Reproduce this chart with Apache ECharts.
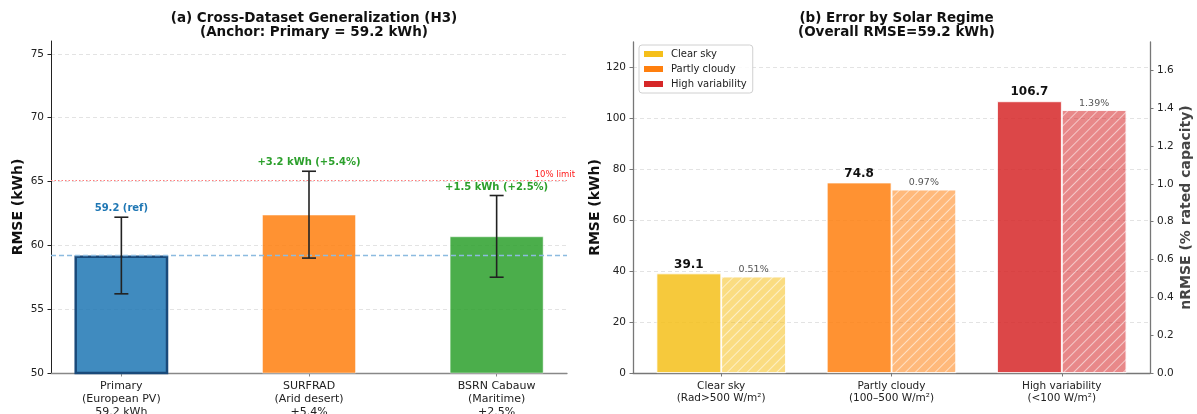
<!DOCTYPE html>
<html><head><meta charset="utf-8">
<script src="https://cdn.jsdelivr.net/npm/echarts@6/dist/echarts.min.js"></script>
<style>html,body{margin:0;padding:0;background:#fff}#c{width:1197px;height:414px}</style>
</head><body><div id="c"></div><script>
// ---------- data ----------
const datasetLabels = ['Primary\n(European PV)\n59.2 kWh', 'SURFRAD\n(Arid desert)\n+5.4%', 'BSRN Cabauw\n(Maritime)\n+2.5%'];
const rmseA = [59.2, 62.4, 60.7];
const errA = [3.0, 3.4, 3.2];
const annotA = ['59.2 (ref)', '+3.2 kWh (+5.4%)', '+1.5 kWh (+2.5%)'];
const refRmse = 59.2;
const limitRmse = 65.12;
const yTicksA = [50, 55, 60, 65, 70, 75];

const regimes = ['Clear sky', 'Partly cloudy', 'High variability'];
const regimeLabels = ['Clear sky\n(Rad>500 W/m²)', 'Partly cloudy\n(100–500 W/m²)', 'High variability\n(<100 W/m²)'];
const rmseB = [39.1, 74.8, 106.7];
const nrmseB = [0.51, 0.97, 1.39];
const yTicksB = [0, 20, 40, 60, 80, 100, 120];
const yTicksB2 = [0, 0.2, 0.4, 0.6, 0.8, 1.0, 1.2, 1.4, 1.6];

// ---------- styles / layout ----------
const FONT = 'DejaVu Sans';
const colA = ['#1f77b4', '#ff7f0e', '#2ca02c'];
const annotColA = ['#1f77b4', '#2ca02c', '#2ca02c'];
const colB = ['#F5BF1A', '#ff7f0e', '#d62728'];
const xlimA = [-0.375, 2.375];
const xlimB = [-0.518, 2.518];
const gA = {left: 51, top: 41, width: 516, height: 332};
const gB = {left: 633, top: 42, width: 517, height: 331};
const bwA = 0.5 * gA.width / (xlimA[1] - xlimA[0]);
const bwB = 0.38 * gB.width / (xlimB[1] - xlimB[0]);
const offB = 0.19;
const idx = regimes.map((_, i) => i);

function rgba(hex, a) {
  const n = parseInt(hex.slice(1), 16);
  return `rgba(${(n >> 16) & 255},${(n >> 8) & 255},${n & 255},${a})`;
}

const gridLine = {show: true, lineStyle: {color: '#dcdcdc', type: [4, 3], width: 0.8}};
const tickLbl = {fontFamily: FONT, fontSize: 10.5, color: '#222', margin: 7};
const titleStyle = {fontFamily: FONT, fontSize: 13.5, fontWeight: 'bold', color: '#111', lineHeight: 14.5};
const nameStyle = {fontFamily: FONT, fontSize: 14, fontWeight: 'bold', color: '#111'};

const chart = echarts.init(document.getElementById('c'));

const option = {
  animation: false,
  backgroundColor: '#fff',
  title: [
    {text: '(a) Cross-Dataset Generalization (H3)\n(Anchor: Primary = 59.2 kWh)', left: gA.left + gA.width / 2, top: 6, textAlign: 'center',
     textStyle: titleStyle},
    {text: '(b) Error by Solar Regime\n(Overall RMSE=59.2 kWh)', left: gB.left + gB.width / 2, top: 6, textAlign: 'center',
     textStyle: titleStyle}
  ],
  legend: {
    data: regimes.map((r, i) => ({name: r, itemStyle: {color: colB[i], opacity: 1}})),
    orient: 'vertical', left: 639, top: 45,
    itemWidth: 21, itemHeight: 8, itemGap: 3,
    padding: [3, 6, 3, 3],
    borderColor: '#d0d0d0', borderWidth: 1, borderRadius: 3,
    backgroundColor: 'rgba(255,255,255,0.85)',
    icon: 'rect',
    textStyle: {fontFamily: FONT, fontSize: 10, color: '#222', lineHeight: 12, padding: [0, 0, 0, 2]}
  },
  grid: [
    Object.assign({containLabel: false, outerBoundsMode: 'none'}, gA),
    Object.assign({containLabel: false, outerBoundsMode: 'none'}, gB)
  ],
  xAxis: [
    {type: 'value', gridIndex: 0, min: xlimA[0], max: xlimA[1],
     axisLine: {show: true, onZero: false, lineStyle: {color: '#888', width: 1.3}},
     axisTick: {show: true, customValues: idx, length: 3.5, lineStyle: {color: '#888'}},
     axisLabel: Object.assign({}, tickLbl, {customValues: idx, fontSize: 11, lineHeight: 13,
       formatter: v => datasetLabels[Math.round(v)] || ''}),
     splitLine: {show: false}},
    {type: 'value', gridIndex: 1, min: xlimB[0], max: xlimB[1],
     axisLine: {show: true, onZero: false, lineStyle: {color: '#777', width: 1.3}},
     axisTick: {show: true, customValues: idx, length: 3.5, lineStyle: {color: '#777'}},
     axisLabel: Object.assign({}, tickLbl, {customValues: idx, fontSize: 10.5, lineHeight: 12,
       formatter: v => regimeLabels[Math.round(v)] || ''}),
     splitLine: {show: false}}
  ],
  yAxis: [
    {type: 'value', gridIndex: 0, min: 50, max: 76,
     name: 'RMSE (kWh)', nameLocation: 'middle', nameGap: 26, nameTextStyle: nameStyle,
     axisLine: {show: true, onZero: false, lineStyle: {color: '#222', width: 1}},
     axisTick: {show: true, customValues: yTicksA, length: 3.5, lineStyle: {color: '#222'}},
     axisLabel: Object.assign({}, tickLbl, {customValues: yTicksA}),
     splitLine: gridLine},
    {type: 'value', gridIndex: 1, min: 0, max: 130,
     name: 'RMSE (kWh)', nameLocation: 'middle', nameGap: 19, nameTextStyle: nameStyle,
     axisLine: {show: true, onZero: false, lineStyle: {color: '#777', width: 1.3}},
     axisTick: {show: true, customValues: yTicksB, length: 3.5, lineStyle: {color: '#777'}},
     axisLabel: Object.assign({}, tickLbl, {customValues: yTicksB}),
     splitLine: gridLine},
    {type: 'value', gridIndex: 1, min: 0, max: 1.75, position: 'right',
     name: 'nRMSE (% rated capacity)', nameLocation: 'middle', nameGap: 29, nameRotate: 90,
     nameTextStyle: Object.assign({}, nameStyle, {color: '#444'}),
     axisLine: {show: true, onZero: false, lineStyle: {color: '#777', width: 1.3}},
     axisTick: {show: true, customValues: yTicksB2, length: 3.5, lineStyle: {color: '#777'}},
     axisLabel: Object.assign({}, tickLbl, {customValues: yTicksB2, formatter: v => v.toFixed(1)}),
     splitLine: {show: false}}
  ],
  series: [
    // panel (a) bars
    {type: 'bar', xAxisIndex: 0, yAxisIndex: 0, barWidth: bwA, z: 2,
     data: rmseA.map((v, i) => ({value: [i, v], itemStyle: {
       color: rgba(colA[i], 0.85),
       borderColor: i === 0 ? '#1a4a7a' : 'rgba(255,255,255,0.6)',
       borderWidth: i === 0 ? 2.5 : 0.8}})),
     markLine: {silent: true, symbol: 'none', z: 3,
       data: [
         {yAxis: refRmse, lineStyle: {color: '#8cbbe0', type: [5, 3], width: 1.3, opacity: 1}, label: {show: false}},
         {yAxis: limitRmse, lineStyle: {color: '#ff7a7a', type: [1.5, 2], width: 1, opacity: 1},
          label: {show: true, position: 'insideEndTop', formatter: '10% limit', color: '#ff2020',
                  fontFamily: FONT, fontSize: 8.5, distance: [-8, 1]}}
       ]}},
    // panel (a) error bars + annotations
    {type: 'custom', xAxisIndex: 0, yAxisIndex: 0, z: 5,
     data: rmseA.map((v, i) => [i, v - errA[i], v + errA[i]]),
     renderItem: (params, api) => {
       const i = params.dataIndex;
       const lo = api.coord([api.value(0), api.value(1)]);
       const hi = api.coord([api.value(0), api.value(2)]);
       const st = {stroke: '#222', lineWidth: 1.6};
       const cap = 7;
       return {type: 'group', children: [
         {type: 'line', shape: {x1: lo[0], y1: lo[1], x2: hi[0], y2: hi[1]}, style: st},
         {type: 'line', shape: {x1: lo[0] - cap, y1: lo[1], x2: lo[0] + cap, y2: lo[1]}, style: st},
         {type: 'line', shape: {x1: hi[0] - cap, y1: hi[1], x2: hi[0] + cap, y2: hi[1]}, style: st},
         {type: 'text', x: hi[0], y: hi[1] - 3.5, style: {text: annotA[i], fill: annotColA[i],
           font: `bold 10px "${FONT}"`, align: 'center', verticalAlign: 'bottom'}}
       ]};
     }},
    // panel (b) solid RMSE bars
    ...regimes.map((r, i) => ({
      type: 'bar', name: r, xAxisIndex: 1, yAxisIndex: 1, barWidth: bwB, barGap: '-100%', z: 2,
      itemStyle: {color: rgba(colB[i], 0.85), borderColor: '#fff', borderWidth: 0.8},
      label: {show: true, position: 'top', distance: 3, formatter: p => p.value[1].toFixed(1),
              fontFamily: FONT, fontSize: 12, fontWeight: 'bold', color: '#111'},
      data: [[i - offB, rmseB[i]]]
    })),
    // panel (b) hatched nRMSE bars
    {type: 'bar', name: 'nRMSE', xAxisIndex: 1, yAxisIndex: 2, barWidth: bwB, barGap: '-100%', z: 2,
     itemStyle: {borderColor: 'rgba(255,255,255,0.8)', borderWidth: 0.8,
       decal: {symbol: 'rect', symbolSize: 1, dashArrayX: [1, 0], dashArrayY: [1, 5.5],
               rotation: -Math.PI / 4, color: 'rgba(255,255,255,0.55)'}},
     label: {show: true, position: 'top', distance: 2, formatter: p => p.value[1].toFixed(2) + '%',
             fontFamily: FONT, fontSize: 9.5, color: '#555'},
     data: nrmseB.map((v, i) => ({value: [i + offB, v], itemStyle: {color: rgba(colB[i], 0.55)}}))}
  ]
};
chart.setOption(option);
</script></body></html>
